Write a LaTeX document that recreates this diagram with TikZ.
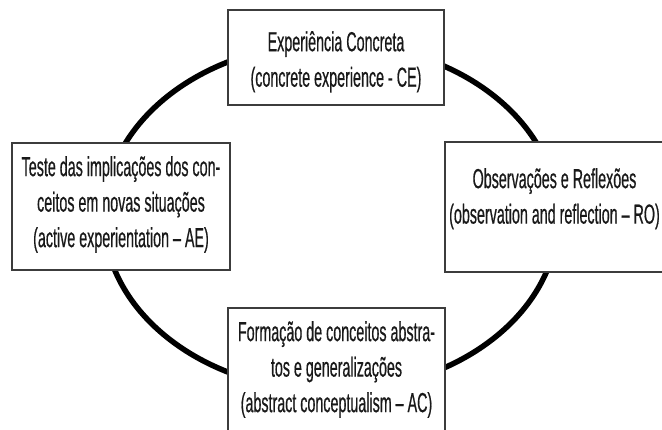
\documentclass[tikz,border=0pt]{standalone}
\usepackage{fontspec}
\setmainfont{Liberation Sans}
\newfontfamily\stagefont{Liberation Sans}[FakeStretch=0.52, FakeBold=0.5]
\usetikzlibrary{positioning}
\definecolor{boxline}{RGB}{60,60,60}
\definecolor{textink}{RGB}{25,25,25}
\tikzset{
    stagebox/.style={
        rectangle,
        draw=boxline,
        line width=1.4pt,
        fill=white,
        inner sep=0pt,
        outer sep=0pt
    },
    stagetext/.style={
        align=center,
        inner sep=0pt,
        text=textink,
        font=\stagefont\fontsize{27.5}{35.5}\selectfont
    },
    cycleline/.style={
        draw=black,
        line width=5.5pt
    }
}
\begin{document}
\begin{tikzpicture}[x=1pt, y=-1pt]
\useasboundingbox (0,0) rectangle (662,429);
% learning cycle
\draw[cycleline] (331,217) ellipse [x radius=227, y radius=174];
% stages
\node[stagebox, minimum width=216pt, minimum height=95pt] (ce) at (336,57.5) {};
\node[stagebox, minimum width=218pt, minimum height=127pt] (ae) at (121,206.5) {};
\node[stagebox, minimum width=219pt, minimum height=130pt] (ro) at (554.5,207) {};
\node[stagebox, minimum width=217pt, minimum height=142pt] (ac) at (336.5,379) {};
% texts
\node[stagetext, below=21pt of ce.north] (cetext) {Experiência Concreta\\(concrete experience - CE)};
\node[stagetext, below=13pt of ae.north] (aetext) {Teste das implicações dos con-\\ceitos em novas situações\\(active experientation – AE)};
\node[stagetext, below=26pt of ro.north] (rotext) {Observações e Reflexões\\(observation and reflection – RO)};
\node[stagetext, below=13pt of ac.north] (actext) {Formação de conceitos abstra-\\tos e generalizações\\(abstract conceptualism – AC)};
\end{tikzpicture}
\end{document}
